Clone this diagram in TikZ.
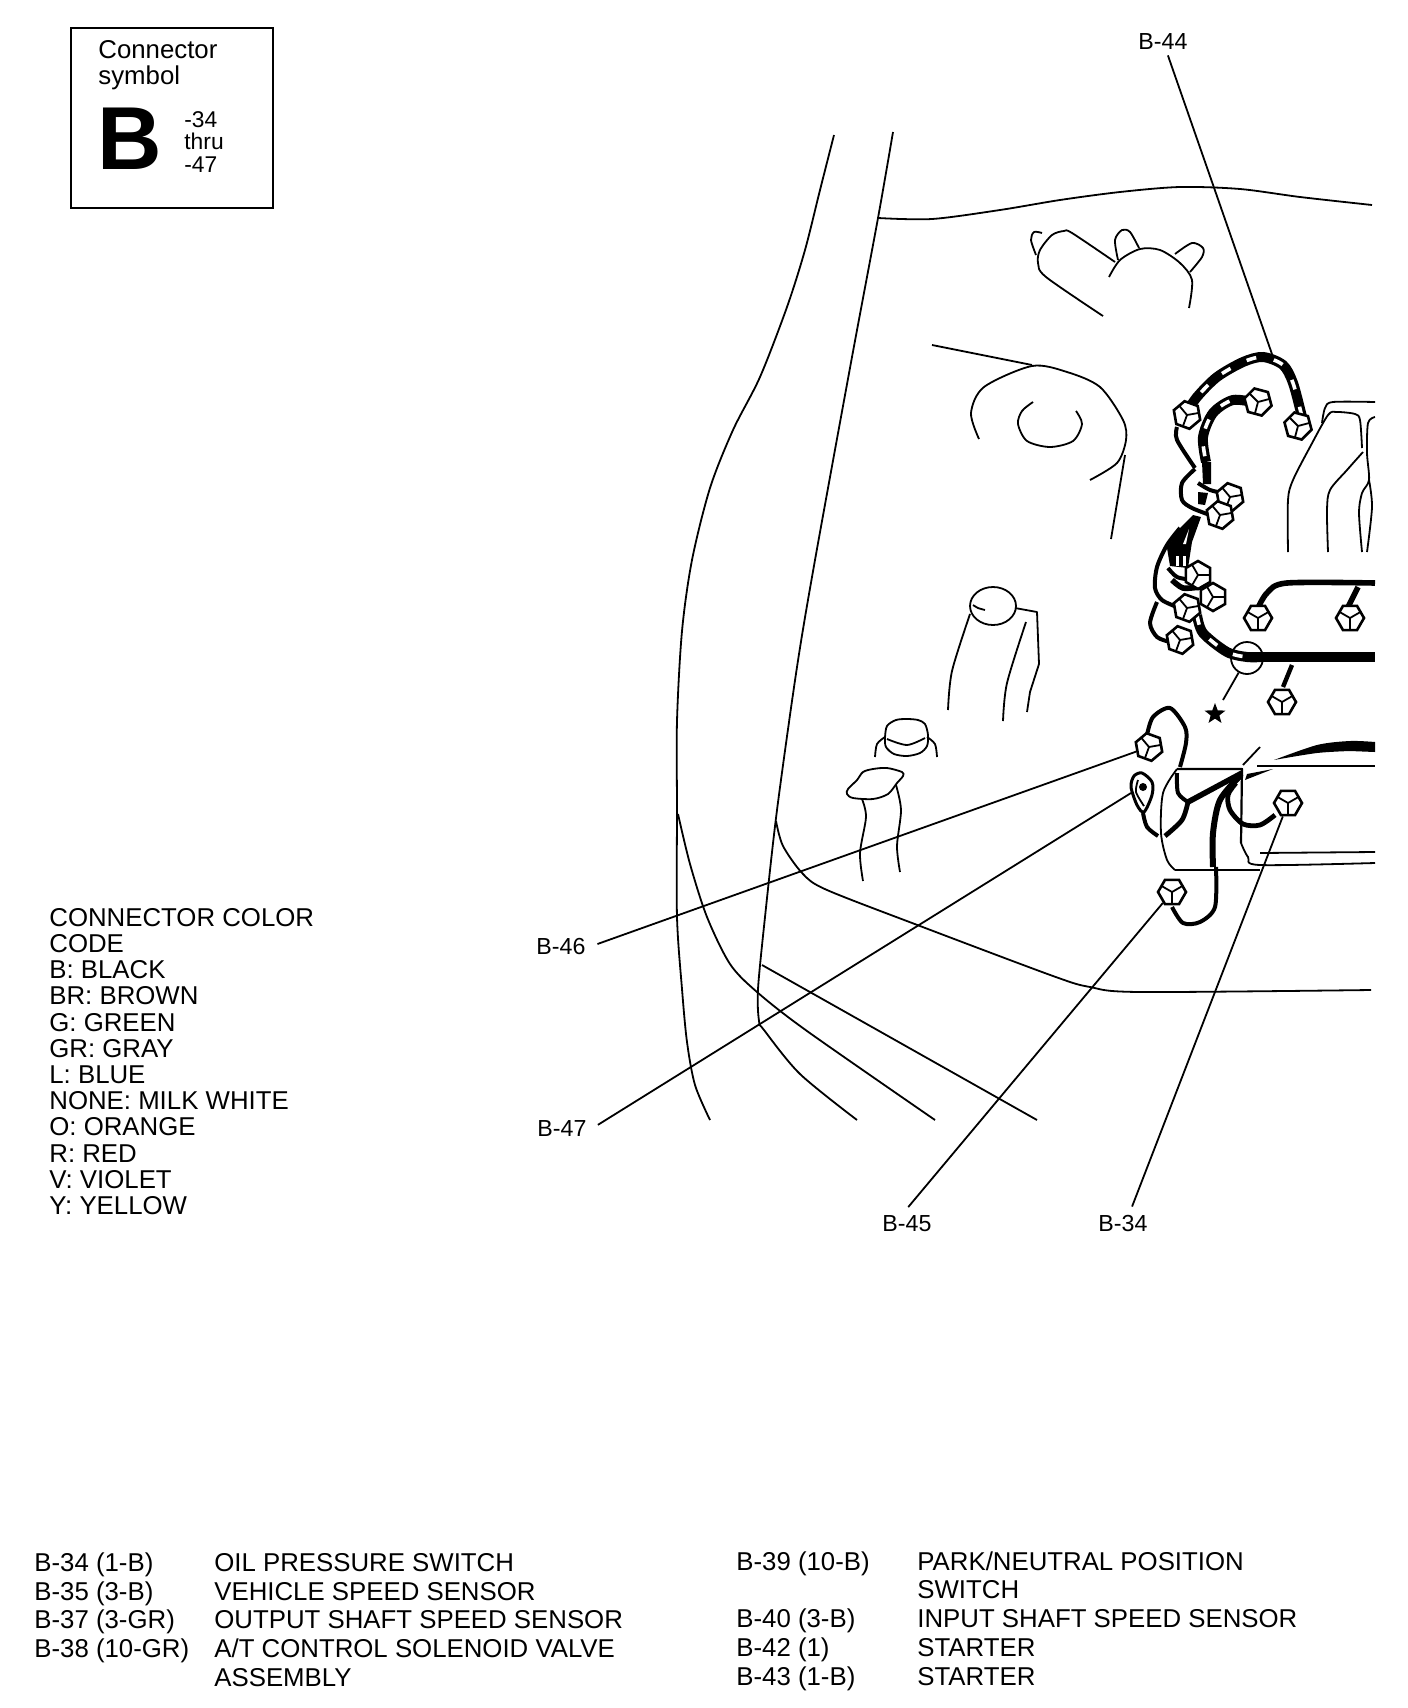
\documentclass[tikz,border=0pt]{standalone}
\usepackage{fontspec}
\setmainfont{Liberation Sans}
\usetikzlibrary{shapes.geometric}

\tikzset{
  txt/.style={anchor=base west, inner sep=0pt, font=\fontsize{12.9}{13}\selectfont},
  small/.style={anchor=base west, inner sep=3pt, font=\fontsize{11.6}{13}\selectfont},
  ln/.style={line width=.9pt, line join=round},
  wire/.style={line width=2pt, line join=round},
  harness/.style={line width=5pt, postaction={draw, white, line width=1.8pt, dash pattern=on 5pt off 9pt}},
  conn/.style={regular polygon, regular polygon sides=6, regular polygon rotate=#1, draw, fill=white, line width=1.3pt, minimum size=14pt, inner sep=0pt,
    path picture={\draw[line width=.9pt] (path picture bounding box.center) -- +(270+#1:7pt) (path picture bounding box.center) -- +(30+#1:7pt) (path picture bounding box.center) -- +(150+#1:7pt);}},
  conn/.default=0
}

\begin{document}
\begin{tikzpicture}[x=.5pt, y=-.5pt]
  \useasboundingbox (0,0) rectangle (1408,1708);

  % symbol box
  \node[draw, line width=1.1pt, minimum width=101pt, minimum height=90pt, inner sep=0pt] (box) at (172,118) {};
  \node[txt] (sym1) at (98,58) {Connector};
  \node[txt] (sym2) at (98,84) {symbol};
  \node[anchor=base west, inner sep=0pt, font=\fontsize{44.7}{46}\selectfont\bfseries] (sym3) at (97,169) {B};
  \node[txt, font=\fontsize{11.4}{13}\selectfont] (sym4) at (184,127) {-34};
  \node[txt, font=\fontsize{11.4}{13}\selectfont] (sym5) at (184,149) {thru};
  \node[txt, font=\fontsize{11.4}{13}\selectfont] (sym6) at (184,172) {-47};

  % colour code
  \node[txt] (col1) at (49,926) {CONNECTOR COLOR};
  \node[txt] (col2) at (49,952) {CODE};
  \node[txt] (col3) at (49,978) {B: BLACK};
  \node[txt] (col4) at (49,1004) {BR: BROWN};
  \node[txt] (col5) at (49,1031) {G: GREEN};
  \node[txt] (col6) at (49,1057) {GR: GRAY};
  \node[txt] (col7) at (49,1083) {L: BLUE};
  \node[txt] (col8) at (49,1109) {NONE: MILK WHITE};
  \node[txt] (col9) at (49,1135) {O: ORANGE};
  \node[txt] (col10) at (49,1162) {R: RED};
  \node[txt] (col11) at (49,1188) {V: VIOLET};
  \node[txt] (col12) at (49,1214) {Y: YELLOW};

  % connector list
  \node[txt] (tab1) at (34,1571) {B-34 (1-B)};
  \node[txt] (tab2) at (34,1600) {B-35 (3-B)};
  \node[txt] (tab3) at (34,1628) {B-37 (3-GR)};
  \node[txt] (tab4) at (34,1657) {B-38 (10-GR)};
  \node[txt] (tab5) at (214,1571) {OIL PRESSURE SWITCH};
  \node[txt] (tab6) at (214,1600) {VEHICLE SPEED SENSOR};
  \node[txt] (tab7) at (214,1628) {OUTPUT SHAFT SPEED SENSOR};
  \node[txt] (tab8) at (214,1657) {A/T CONTROL SOLENOID VALVE};
  \node[txt] (tab9) at (214,1686) {ASSEMBLY};
  \node[txt] (tab10) at (736,1570) {B-39 (10-B)};
  \node[txt] (tab11) at (736,1627) {B-40 (3-B)};
  \node[txt] (tab12) at (736,1656) {B-42 (1)};
  \node[txt] (tab13) at (736,1685) {B-43 (1-B)};
  \node[txt] (tab14) at (917,1570) {PARK/NEUTRAL POSITION};
  \node[txt] (tab15) at (917,1598) {SWITCH};
  \node[txt] (tab16) at (917,1627) {INPUT SHAFT SPEED SENSOR};
  \node[txt] (tab17) at (917,1656) {STARTER};
  \node[txt] (tab18) at (917,1685) {STARTER};

  % body outline
  \draw[ln] plot[smooth] coordinates {(834,135) (820,190) (805,250) (787,307) (760,377) (733,430) (710,488) (692,560) (682,631) (677,721) (677,810) (677,917) (682,989) (687,1042) (695,1085) (710,1120)};
  \draw[ln] plot[smooth] coordinates {(893,132) (878,218) (852,357) (815,560) (797,667) (777,810) (765,917) (758,989) (759,1021) (764,1030) (800,1074) (857,1120)};
  \draw[ln] plot[smooth] coordinates {(678,814) (690,864) (707,917) (730,964) (757,992) (807,1031) (935,1120)};
  \draw[ln] (762,965) -- (1037,1120);
  \draw[ln] plot[smooth] coordinates {(776,821) (783,846) (803,874) (827,890) (920,926) (1053,976) (1090,987) (1140,992) (1371,990)};
  \draw[ln] plot[smooth] coordinates {(878,218) (932,219) (1000,210) (1060,200) (1120,192) (1180,187) (1240,189) (1300,197) (1372,205)};

  % parts at the top
  \draw[ln] plot[smooth] coordinates {(1103,316) (1046,277) (1038,263) (1040,250) (1052,235) (1064,231) (1072,233) (1115,262)};
  \draw[ln] plot[smooth] coordinates {(1042,233) (1034,232) (1031,240) (1036,255)};
  \draw[ln] plot[smooth] coordinates {(1109,277) (1120,260) (1140,249) (1160,250) (1180,263) (1192,280) (1189,308)};
  \draw[ln] plot[smooth] coordinates {(1118,260) (1115,240) (1122,230) (1130,232) (1139,248)};
  \draw[ln] plot[smooth] coordinates {(1175,254) (1192,243) (1203,248) (1202,257) (1190,272)};
  \draw[ln] (932,345) -- (1032,365);
  \draw[ln] plot[smooth] coordinates {(979,439) (971,413) (984,387) (1032,366) (1067,372) (1100,387) (1123,420) (1126,440) (1117,463) (1090,480)};
  \draw[ln] (1125,455) -- (1111,539);
  \draw[ln] plot[smooth] coordinates {(1033,402) (1022,411) (1018,424) (1027,441) (1050,447) (1073,441) (1082,424) (1076,411)};

  % engine
  \draw[ln] plot[smooth] coordinates {(1375,402) (1333,402) (1325,408) (1322,423)};
  \draw[ln] plot[smooth] coordinates {(1288,552) (1288,500) (1293,480) (1310,447) (1328,415) (1337,412) (1355,414) (1360,420) (1362,448)};
  \draw[ln] plot[smooth] coordinates {(1363,452) (1347,470) (1330,490) (1327,510) (1328,552)};
  \draw[ln] plot[smooth] coordinates {(1375,417) (1368,423) (1367,453) (1369,480) (1362,493) (1359,513) (1362,552)};
  \draw[ln] plot[smooth] coordinates {(1369,480) (1372,507) (1367,552)};

  % pillars
  \node[draw, ellipse, line width=.9pt, minimum width=23pt, minimum height=19pt, inner sep=0pt] (cap1) at (993,606) {};
  \draw[ln] plot[smooth] coordinates {(973,605) (978,608) (985,610)};
  \draw[ln] plot[smooth] coordinates {(970,614) (952,671) (948,710)};
  \draw[ln] plot coordinates {(1015,608) (1037,612) (1039,664) (1030,692) (1027,712)};
  \draw[ln] plot[smooth] coordinates {(1026,622) (1007,683) (1003,721)};
  \draw[ln] plot[smooth cycle] coordinates {(885,738) (887,726) (896,720) (907,719) (918,720) (925,724) (928,735) (927,746) (920,753) (907,756) (894,754) (886,747)};
  \draw[ln] plot[smooth] coordinates {(887,739) (907,745) (925,738)};
  \draw[ln] plot[smooth] coordinates {(875,757) (877,744) (885,737)};
  \draw[ln] plot[smooth] coordinates {(937,757) (935,744) (927,737)};
  \draw[ln] plot[smooth cycle] coordinates {(847,794) (848,789) (857,780) (863,772) (873,769) (887,768) (902,772) (903,776) (897,783) (888,794) (873,799) (853,798)};
  \draw[ln] plot[smooth] coordinates {(862,799) (866,817) (860,853) (863,881)};
  \draw[ln] plot[smooth] coordinates {(896,785) (901,810) (897,846) (900,872)};

  % upper wiring
  \draw[wire] plot[smooth] coordinates {(1177,427) (1177,440) (1195,468)};
  \draw[wire] plot[smooth] coordinates {(1195,469) (1182,483) (1182,500) (1192,508) (1210,515)};
  \draw[wire] plot[smooth] coordinates {(1198,483) (1210,490) (1223,493)};
  \draw[harness] plot[smooth] coordinates {(1185,415) (1197,397) (1217,377) (1243,362) (1263,357) (1283,365) (1293,383) (1302,417)};
  \draw[harness] plot[smooth] coordinates {(1257,403) (1233,400) (1213,413) (1203,437) (1206,462)};
  \fill (1202,462) -- (1211,462) -- (1211,484) -- (1203,484) -- cycle;
  \fill (1198,492) -- (1208,493) -- (1205,505) -- (1198,504) -- cycle;
  \fill (1193,515) -- (1201,517) -- (1192,542) -- (1188,568) -- (1170,566) -- (1167,548) -- (1180,528) -- cycle;
  \fill[white] (1189,529) -- (1186,544) -- (1183,544) -- cycle;
  \fill[white] (1176,556) rectangle (1179,566);
  \fill[white] (1183,556) rectangle (1186,566);
  \draw[wire] plot[smooth] coordinates {(1180,528) (1167,545) (1157,567) (1155,588) (1162,600) (1177,607)};
  \draw[wire] plot[smooth] coordinates {(1168,568) (1177,577) (1192,580)};
  \draw[line width=2.8pt] plot[smooth] coordinates {(1172,580) (1183,588) (1200,587)};
  \draw[wire] plot[smooth] coordinates {(1157,602) (1150,623) (1157,637) (1170,642)};
  \draw[harness] plot[smooth] coordinates {(1197,615) (1203,633) (1227,652) (1247,657) (1262,657)};
  \fill (1250,652) rectangle (1375,662);
  \draw[line width=2.8pt] plot[smooth] coordinates {(1375,583) (1287,583) (1267,593) (1257,610)};
  \draw[line width=2.8pt] plot[smooth] coordinates {(1358,587) (1348,607)};
  \draw[line width=2.2pt] plot[smooth] coordinates {(1292,665) (1283,687)};

  \node[draw, ellipse, line width=.9pt, minimum size=16pt, inner sep=0pt] (ringa) at (1247,658) {};
  \node[star, star points=5, star point ratio=2.4, fill=black, minimum size=11pt, inner sep=0pt] (starb) at (1215,714) {};
  \coordinate (ringb) at (1223,700);
  \draw[ln] (ringa) -- (ringb);

  % lower wiring
  \draw[wire] plot[smooth] coordinates {(1147,735) (1153,717) (1170,708) (1185,727) (1186,743) (1180,767)};
  \draw[ln] plot[smooth] coordinates {(1177,769) (1163,793) (1161,833) (1167,860) (1175,870)};
  \draw[ln, line width=1.1pt] (1177,769) -- (1242,769) -- (1241,843);
  \draw[ln] plot[smooth] coordinates {(1241,843) (1248,857) (1260,865) (1375,863)};
  \draw[ln, line width=1.1pt] (1175,870) -- (1260,870);
  \draw[ln] (1260,853) -- (1375,852);
  \draw[ln] (1243,765) -- (1260,747);
  \draw[ln] (1257,766) -- (1375,766);
  \fill plot[smooth] coordinates {(1274,760) (1317,745) (1350,741) (1375,742)} -- (1375,752) -- plot[smooth] coordinates {(1350,751) (1317,753) (1274,760)};
  \fill (1245,780) -- (1273,769) -- (1247,774) -- cycle;
  \draw[wire] plot[smooth] coordinates {(1177,773) (1178,793) (1188,802)};
  \draw[line width=2.8pt] (1188,802) -- (1242,773);
  \draw[line width=2.4pt] plot[smooth] coordinates {(1188,802) (1182,820) (1165,836)};
  \draw[line width=3pt] plot[smooth] coordinates {(1240,776) (1220,800) (1213,833) (1213,867)};
  \draw[wire] plot[smooth] coordinates {(1216,867) (1215,907) (1200,922) (1183,923) (1172,907)};
  \draw[line width=2.4pt] plot[smooth] coordinates {(1236,783) (1228,795) (1230,810) (1243,824) (1260,825) (1275,815)};
  \draw[wire] plot[smooth] coordinates {(1143,813) (1147,827) (1158,836)};
  \draw[line width=1.5pt, fill=white] plot[smooth cycle] coordinates {(1142,773) (1152,782) (1152,795) (1144,812) (1137,805) (1131,787) (1134,776)};
  \draw[ln] plot[smooth] coordinates {(1138,780) (1136,792) (1144,806)};
  \fill (1143,787) circle (2pt);
  \coordinate (c47) at (1131,793);

  % connectors
  \node[conn=-15] (c44) at (1298,426) {};
  \node[conn=-20] (ca) at (1187,415) {};
  \node[conn=-15] (cb) at (1258,402) {};
  \node[conn=-20] (cc) at (1230,497) {};
  \node[conn=-20] (cd) at (1220,515) {};
  \node[conn=-30] (ce) at (1198,575) {};
  \node[conn=-30] (cf) at (1213,597) {};
  \node[conn=-20] (cg) at (1187,608) {};
  \node[conn=-20] (ch) at (1180,640) {};
  \node[conn] (ci) at (1258,618) {};
  \node[conn] (cj) at (1350,618) {};
  \node[conn] (ck) at (1282,702) {};
  \node[conn=-20] (c46) at (1149,747) {};
  \node[conn] (c45) at (1172,892) {};
  \node[conn] (c34) at (1288,803) {};

  % callouts
  \node[small] (lb44) at (1132,49) {B-44};
  \node[small] (lb46) at (530,954) {B-46};
  \node[small] (lb47) at (531,1136) {B-47};
  \node[small] (lb45) at (876,1231) {B-45};
  \node[small] (lb34) at (1092,1231) {B-34};
  \draw[ln] (lb44) -- (1273,357);
  \draw[ln, shorten <=3pt] (lb46.east) -- (c46);
  \draw[ln, shorten <=3pt] (lb47.east) -- (c47);
  \draw[ln, shorten <=1pt] (lb45.north) -- (c45);
  \draw[ln, shorten <=1pt] (lb34.60) -- (c34);
\end{tikzpicture}
\end{document}
